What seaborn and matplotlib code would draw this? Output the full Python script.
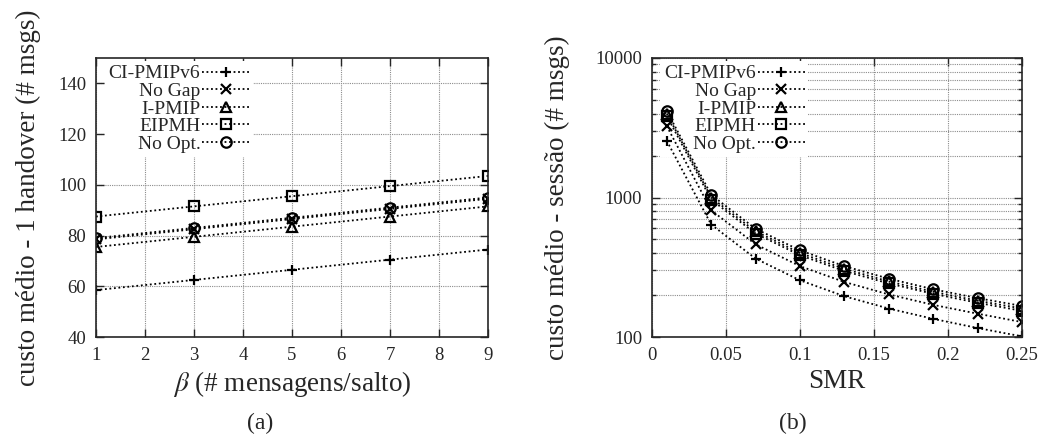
import numpy as np
import pandas as pd
import matplotlib
matplotlib.use("Agg")
import matplotlib.pyplot as plt
import seaborn as sns
from matplotlib.ticker import FixedLocator, FuncFormatter, LogLocator, NullFormatter

sns.set_style("ticks")
plt.rcParams['font.family'] = ['Liberation Serif', 'DejaVu Serif']
plt.rcParams['mathtext.fontset'] = 'stix'

# ---- dados ----
series = ["CI-PMIPv6", "No Gap", "I-PMIP", "EIPMH", "No Opt."]
markers = ["+", "x", "^", "s", "o"]

beta = [1, 3, 5, 7, 9]
custo_ho_ci = [58.5, 62.5, 66.5, 70.5, 74.5]
custo_ho_nogap = [78.5, 82.5, 86.5, 90.5, 94.5]
custo_ho_ipmip = [75.5, 79.5, 83.5, 87.5, 91.5]
custo_ho_eipmh = [87.5, 91.5, 95.5, 99.5, 103.5]
custo_ho_noopt = [79.0, 83.0, 87.0, 91.0, 95.0]

smr = [0.01, 0.04, 0.07, 0.10, 0.13, 0.16, 0.19, 0.22, 0.25]
custo_s_ci = [2550, 640, 365, 255, 196, 160, 135, 116, 101]
custo_s_nogap = [3250, 810, 462, 322, 248, 202, 170, 147, 128]
custo_s_ipmip = [4000, 1000, 572, 400, 308, 250, 211, 182, 160]
custo_s_eipmh = [3850, 965, 552, 386, 297, 242, 204, 176, 154]
custo_s_noopt = [4180, 1045, 597, 418, 322, 262, 220, 190, 167]

ho_vals = [custo_ho_ci, custo_ho_nogap, custo_ho_ipmip, custo_ho_eipmh, custo_ho_noopt]
s_vals = [custo_s_ci, custo_s_nogap, custo_s_ipmip, custo_s_eipmh, custo_s_noopt]

fig = plt.figure(figsize=(10.41, 4.41), dpi=100)
ax1 = fig.add_axes([0.0922, 0.2358, 0.3766, 0.6327])
ax2 = fig.add_axes([0.6263, 0.2358, 0.3554, 0.6327])

line_kw = dict(color="black", linestyle=(0, (1, 1.5)), linewidth=1.3,
               markersize=7.5, markeredgewidth=1.6, markerfacecolor="none",
               markeredgecolor="black")

for nome, mk, yv in zip(series, markers, ho_vals):
    sns.lineplot(x=beta, y=yv, ax=ax1, marker=mk, label=nome, **line_kw)
for nome, mk, yv in zip(series, markers, s_vals):
    sns.lineplot(x=smr, y=yv, ax=ax2, marker=mk, label=nome, **line_kw)

grid_kw = dict(color="#8c8c8c", linestyle=(0, (1, 1)), linewidth=0.8)

# painel (a)
ax1.set_xlim(1, 9)
ax1.set_ylim(40, 150)
ax1.set_xticks(range(1, 10))
ax1.set_yticks(range(40, 141, 20))
ax1.set_xlabel(r"$\beta$ (# mensagens/salto)", fontsize=19.5, labelpad=4)
ax1.set_ylabel("custo médio - 1 handover (# msgs)", fontsize=19.5, labelpad=12)

# painel (b)
ax2.set_yscale("log")
ax2.set_xlim(0, 0.25)
ax2.set_ylim(100, 10000)
ax2.set_xticks([0, 0.05, 0.1, 0.15, 0.2, 0.25])
ax2.xaxis.set_major_formatter(FuncFormatter(lambda v, p: f"{v:g}"))
ax2.yaxis.set_major_locator(FixedLocator([100, 1000, 10000]))
ax2.yaxis.set_major_formatter(FuncFormatter(lambda v, p: f"{v:.0f}"))
ax2.yaxis.set_minor_locator(LogLocator(base=10, subs=np.arange(2, 10)))
ax2.yaxis.set_minor_formatter(NullFormatter())
ax2.set_xlabel("SMR", fontsize=19.5, labelpad=4)
ax2.set_ylabel("custo médio - sessão (# msgs)", fontsize=19.5, labelpad=18)

for ax in (ax1, ax2):
    ax.set_axisbelow(True)
    ax.tick_params(which="both", direction="in", top=True, right=True,
                   labelsize=13.5, width=1, pad=7)
    ax.tick_params(which="major", length=6)
    ax.tick_params(which="minor", length=3)
    for sp in ax.spines.values():
        sp.set_linewidth(1.2)
        sp.set_visible(True)
        sp.set_zorder(5)
    ax.xaxis.grid(True, which="major", **grid_kw)
    ax.yaxis.grid(True, which="major", **grid_kw)

ax2.yaxis.grid(True, which="minor", **grid_kw)

for ax in (ax1, ax2):
    # legenda estilo gnuplot: texto alinhado à direita, amostra depois
    leg = ax.legend(loc="upper left", bbox_to_anchor=(0.015, 1.0), markerfirst=False,
                    frameon=True, framealpha=1, edgecolor="none", facecolor="white",
                    fancybox=False, fontsize=14, handlelength=2.4,
                    handletextpad=0.1, labelspacing=0.0, borderpad=0.2,
                    borderaxespad=0.15)
    leg.set_zorder(1.5)

fig.text(0.25, 0.04, "(a)", ha="center", va="center", fontsize=17)
fig.text(0.762, 0.04, "(b)", ha="center", va="center", fontsize=17)

fig.savefig("out.png", dpi=100)
